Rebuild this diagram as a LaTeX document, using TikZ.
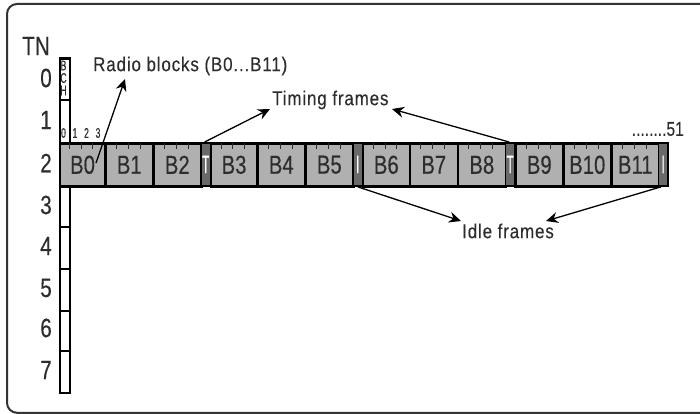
\documentclass[tikz,border=0pt]{standalone}
\usepackage{fontspec}
\setmainfont{Liberation Sans}[FakeStretch=0.78,FakeBold=0.25]
\newfontfamily\labelfont{Liberation Sans}[FakeStretch=0.85,LetterSpace=4.2,FakeBold=0.25]
\newfontfamily\smallfont{Liberation Sans}[FakeStretch=0.62,FakeBold=0.25]
\newfontfamily\slimfont{Liberation Sans}[FakeStretch=0.45,FakeBold=0.8]
\usetikzlibrary{arrows.meta,calc}
\definecolor{ink}{HTML}{2E2C2D}
\definecolor{blockgrey}{HTML}{B0B0B0}
\definecolor{markgrey}{HTML}{6A6A6A}
\tikzset{
  lbl/.style={inner sep=0pt,text=ink,font=\labelfont\fontsize{20}{21}\selectfont},
  dotlbl/.style={inner sep=0pt,text=ink,font=\fontsize{20}{21}\selectfont},
  tnlbl/.style={inner sep=0pt,text=ink,font=\fontsize{26.5}{27}\selectfont},
  blk/.style={inner sep=0pt,text=ink,font=\fontsize{26}{27}\selectfont},
  smalllbl/.style={inner sep=0pt,text=ink,font=\smallfont\fontsize{14}{14}\selectfont},
  cell/.style={draw=black,line width=2.8pt,fill=none},
  blockbox/.style={draw=black,line width=2.6pt,fill=blockgrey},
  markbox/.style={draw=black,line width=1.8pt,fill=markgrey},
  marklbl/.style={inner sep=0pt,text=white,font=\slimfont\fontsize{25}{26}\selectfont},
  tick/.style={draw=ink,line width=.8pt},
  arr/.style={draw=black,line width=1.3pt,-{Stealth[length=12pt,width=11pt,inset=4pt]}}
}
\newcommand{\blockat}[4]{% name, left, right, label
  \node[blockbox,minimum width=#3pt-#2pt,minimum height=43pt,inner sep=0pt,anchor=north west] (#1) at (#2,142) {};
  \node[blk] at (#1.center) {#4};
  \foreach \f in {.25,.5,.75}{\draw[tick] ($(#2,143)+\f*(#3-#2,0)$) -- ++(0,6);}
}
\begin{document}
\begin{tikzpicture}[x=1pt,y=-1pt]
\useasboundingbox (0,0) rectangle (700,414);
% frame
\draw[draw=black!80,line width=2pt,rounded corners=10pt] (701,4) -- (7,4) -- (7,412.8) -- (701,412.8);
% TN column
\node[cell,minimum width=10pt,minimum height=334.5pt,inner sep=0pt,anchor=north west] (col) at (58.5,57) {};
\node[draw=black,line width=1.8pt,minimum width=10pt,minimum height=42.5pt,inner sep=0pt,anchor=north west] (bch) at (58.5,57) {};
\foreach \y/\t in {65.5/B,78/C,90.5/H}{\node[smalllbl] at (63.5,\y) {\t};}
\foreach \y in {227,269,310.5,351}{\draw[black,line width=2pt] (58.5,\y) -- (68.5,\y);}
% row numbers
\node[tnlbl] (tn) at (36,46) {TN};
\foreach \n/\y in {0/78,1/120,2/163,3/205,4/246,5/288,6/328,7/370}{\node[tnlbl] (r\n) at (46,\y) {\n};}
% small numbers
\foreach \n/\x in {0/63.5,1/75,2/86.5,3/98}{\node[smalllbl] (s\n) at (\x,133) {\n};}
\node[dotlbl,anchor=east] (dots) at (684,129) {........51};
% blocks
\blockat{b0}{58.5}{104}{B0}
\blockat{b1}{104}{152}{B1}
\blockat{b2}{152}{200}{B2}
\node[markbox,minimum width=9.5pt,minimum height=43pt,inner sep=0pt,anchor=north west] (t1) at (200,142) {};
\node[marklbl] at (t1.center) {T};
\blockat{b3}{209.5}{256}{B3}
\blockat{b4}{256}{304}{B4}
\blockat{b5}{304}{352}{B5}
\node[markbox,minimum width=9.5pt,minimum height=43pt,inner sep=0pt,anchor=north west] (i1) at (352,142) {};
\node[marklbl] at (i1.center) {I};
\blockat{b6}{361.5}{408.5}{B6}
\blockat{b7}{408.5}{456.5}{B7}
\blockat{b8}{456.5}{504.5}{B8}
\node[markbox,minimum width=9.5pt,minimum height=43pt,inner sep=0pt,anchor=north west] (t2) at (504.5,142) {};
\node[marklbl] at (t2.center) {T};
\blockat{b9}{514}{562}{B9}
\blockat{b10}{562}{610}{B10}
\blockat{b11}{610}{658}{B11}
\node[markbox,minimum width=9.5pt,minimum height=43pt,inner sep=0pt,anchor=north west] (i2) at (657.5,142) {};
\node[marklbl] at (i2.center) {I};
% labels
\node[lbl,anchor=west] (radio) at (93,66) {Radio blocks (B0...B11)};
\node[lbl,anchor=west] (timing) at (272,100) {Timing frames};
\node[lbl,anchor=west] (idle) at (462,231) {Idle frames};
% arrows
\coordinate (radiofrom) at (96,163);
\coordinate (radioto) at (125,79);
\coordinate (timA) at (270,109);
\coordinate (timB) at (392,109);
\coordinate (idlA) at (461,221);
\coordinate (idlB) at (546,221);
\draw[arr] (radiofrom) -- (radioto);
\draw[arr] (t1.north) ++(-1,0) -- (timA);
\draw[arr] (t2.north) ++(-1,0) -- (timB);
\draw[arr] (i1.south) -- (idlA);
\draw[arr] (i2.south) ++(-2,0) -- (idlB);
\end{tikzpicture}
\end{document}
